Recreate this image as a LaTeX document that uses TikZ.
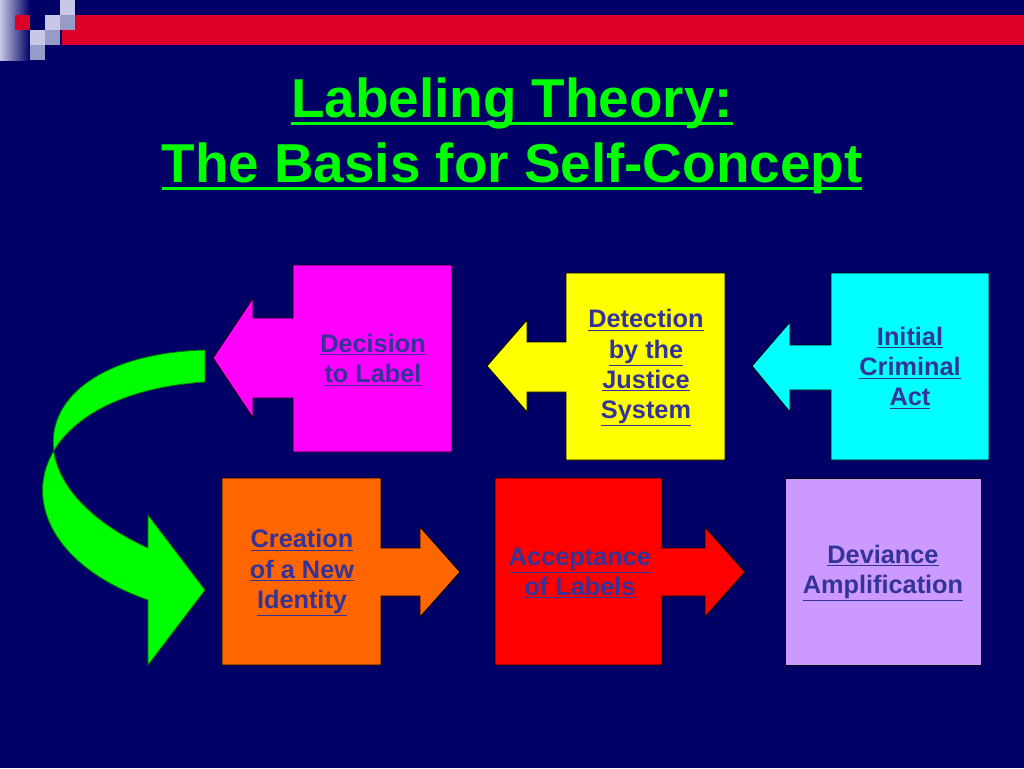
\documentclass[tikz,border=0pt]{standalone}
\usepackage{fontspec}
\setmainfont{Liberation Sans}
\usepackage{xcolor}
\definecolor{slidebg}{RGB}{0, 0, 102}
\definecolor{titlegreen}{RGB}{0, 255, 0}
\definecolor{boxmagenta}{RGB}{255, 0, 255}
\definecolor{boxyellow}{RGB}{255, 255, 0}
\definecolor{boxcyan}{RGB}{0, 255, 255}
\definecolor{boxorange}{RGB}{255, 102, 0}
\definecolor{boxred}{RGB}{255, 0, 0}
\definecolor{boxlilac}{RGB}{204, 153, 255}
\definecolor{textnavy}{RGB}{51, 51, 153}
\definecolor{barred}{RGB}{220, 0, 40}
\definecolor{checklight}{RGB}{200, 200, 230}
\definecolor{checkmid}{RGB}{150, 155, 200}

\tikzset{
  callout/.style={draw=black, line width=0.6pt},
  boxtext/.style={text=textnavy, font=\bfseries\fontsize{18}{21.5}\selectfont, align=center},
  titletext/.style={text=titlegreen, font=\bfseries\fontsize{39}{46}\selectfont, align=center}
}
\newcommand{\ul}[1]{\underline{#1}}
\newcommand{\tul}[1]{\setbox0\hbox{#1}\rlap{\rule[-5pt]{\wd0}{2pt}}\box0}

\begin{document}
\begin{tikzpicture}[x=0.25mm, y=-0.25mm]
            % Background
            \fill[slidebg] (0,0) rectangle (1024,768);
            \useasboundingbox (0,0) rectangle (1024,768);
            
            % Header bar
            \shade[left color=checklight, right color=slidebg] (0,0) rectangle (30,60);
            \fill[barred] (62,15) rectangle (1024,45);
            \fill[barred] (15,15) rectangle (30,30);
            \fill[checklight] (30,30) rectangle (45,45);
            \fill[checkmid] (30,45) rectangle (45,60);
            \fill[checklight] (45,15) rectangle (60,30);
            \fill[checkmid] (45,30) rectangle (60,45);
            \fill[checklight] (60,0) rectangle (75,15);
            \fill[checkmid] (60,15) rectangle (75,30);
            
            % Title
            \node[titletext] (title) at (512,136) {\tul{Labeling Theory:}\\\tul{The Basis for Self-Concept}};
            
            % Top row, arrows pointing left
            \draw[callout, fill=boxmagenta] (293,265) -- (452,265) -- (452,452) -- (293,452) -- (293,398) -- (253,398) -- (253,418) -- (213,358) -- (253,298) -- (253,318) -- (293,318) -- cycle;
            \node[boxtext] (decision) at (373,360) {\ul{Decision}\\\ul{to Label}};
            
            \draw[callout, fill=boxyellow] (566,273) -- (725,273) -- (725,460) -- (566,460) -- (566,392) -- (527,392) -- (527,412) -- (487,366) -- (527,320) -- (527,342) -- (566,342) -- cycle;
            \node[boxtext] (detection) at (646,368) {\ul{Detection}\\\ul{by the}\\\ul{Justice}\\\ul{System}};
            
            \draw[callout, fill=boxcyan] (831,273) -- (989,273) -- (989,460) -- (831,460) -- (831,390) -- (790,390) -- (790,412) -- (752,366) -- (790,322) -- (790,345) -- (831,345) -- cycle;
            \node[boxtext] (initial) at (910,368) {\ul{Initial}\\\ul{Criminal}\\\ul{Act}};
            
            % Bottom row, arrows pointing right
            \draw[callout, fill=boxorange] (222,478) -- (381,478) -- (381,548) -- (420,548) -- (420,527) -- (460,572) -- (420,617) -- (420,596) -- (381,596) -- (381,665) -- (222,665) -- cycle;
            \node[boxtext] (creation) at (302,573) {\ul{Creation}\\\ul{of a New}\\\ul{Identity}};
            
            \draw[callout, fill=boxred] (495,478) -- (662,478) -- (662,548) -- (705,548) -- (705,527) -- (745,572) -- (705,617) -- (705,596) -- (662,596) -- (662,665) -- (495,665) -- cycle;
            \node[boxtext] (acceptance) at (580,573) {\ul{Acceptance}\\\ul{of Labels}};
            
            \draw[callout, fill=boxlilac] (785,478) rectangle (981,665);
            \node[boxtext] (deviance) at (883,573) {\ul{Deviance}\\\ul{Amplification}};
            
            % Curved arrow
            \fill[titlegreen, draw=green!45!black, line width=0.6pt] (205,350) .. controls (30,355) and (0,480) .. (148,548) -- (148,515) -- (205,590) -- (148,665) -- (148,600) .. controls (-10,545) and (10,395) .. (205,382) -- cycle;
        \end{tikzpicture}
\end{document}
